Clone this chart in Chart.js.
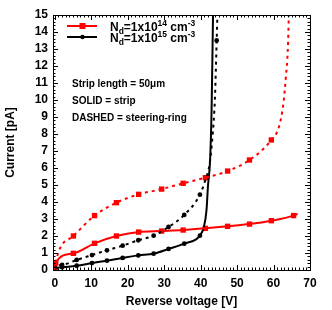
<!DOCTYPE html>
<html>
<head>
<meta charset="utf-8">
<script src="https://cdn.jsdelivr.net/npm/chart.js@4/dist/chart.umd.min.js"></script>
<style>
html,body{margin:0;padding:0;background:#fff;}
#wrap{position:relative;width:332px;height:310px;}
</style>
</head>
<body>
<div id="wrap"><canvas id="c" width="332" height="310"></canvas></div>
<script>
// ---- Data ----
// Nd = 1x10^14 cm^-3, strip (solid red) - marker points
const red14StripV = [0, 0.2, 5.1, 10.9, 16.9, 23.0, 29.3, 35.2, 41.3, 47.4, 53.4, 59.4, 65.5];
const red14StripI = [0, 0.42, 0.98, 1.57, 2.0, 2.23, 2.29, 2.35, 2.45, 2.57, 2.7, 2.9, 3.2];
// curve continuation beyond last marker
const red14StripTailV = [66.6];
const red14StripTailI = [3.3];

// Nd = 1x10^14 cm^-3, steering ring (dashed red)
const red14RingV = [0, 0.2, 5.1, 10.9, 16.9, 23.0, 29.3, 35.2, 41.3, 47.4, 53.4, 59.4];
const red14RingI = [0, 0.42, 2.0, 3.2, 3.96, 4.45, 4.76, 5.1, 5.43, 5.82, 6.47, 7.65];
const red14RingTailV = [61.5, 62.7, 63.4, 63.9, 64.2];
const red14RingTailI = [8.43, 9.8, 11.4, 12.9, 15.0];

// Nd = 1x10^15 cm^-3, strip (solid black)
const blk15StripV = [0, 0.1, 2.0, 6.0, 10.2, 14.3, 18.6, 22.9, 27.1, 31.2, 35.5, 39.8];
const blk15StripI = [0, 0.08, 0.16, 0.25, 0.41, 0.55, 0.71, 0.86, 0.96, 1.24, 1.55, 2.02];
const blk15StripTailV = [40.9, 41.6, 42.0, 42.6, 43.0, 43.4];
const blk15StripTailI = [2.55, 3.5, 4.9, 6.5, 9.4, 15.0];

// Nd = 1x10^15 cm^-3, steering ring (dashed black)
const blk15RingV = [0, 0.1, 2.0, 6.0, 10.2, 14.3, 18.6, 22.9, 27.1, 31.2, 35.5, 39.8, 44.4];
const blk15RingI = [0, 0.15, 0.3, 0.59, 0.88, 1.16, 1.43, 1.75, 2.02, 2.53, 3.24, 4.43, 13.5];
const blk15RingMidV = [41.3, 42.5, 43.3, 43.9];
const blk15RingMidI = [5.3, 6.3, 8.0, 10.0];
const blk15RingTailV = [44.6];
const blk15RingTailI = [15.0];

// Axis ranges / tick labels
const xMin = -0.5, xMax = 70, xMinor = 1;
const yMin = 0, yMax = 15, yMinor = 0.2;
const xTickValues = [0, 10, 20, 30, 40, 50, 60, 70];
const yTickValues = [0, 1, 2, 3, 4, 5, 6, 7, 8, 9, 10, 11, 12, 13, 14, 15];

const xTitle = 'Reverse voltage [V]';
const yTitle = 'Current [pA]';
const notes = ['Strip length = 50\u03BCm', 'SOLID = strip', 'DASHED = steering-ring'];

// ---- helpers ----
function pts(V, I) { return V.map((v, i) => ({x: v, y: I[i]})); }
function sorted(a) { return a.slice().sort((p, q) => p.x - q.x); }

const RED = '#ff0000', BLK = '#000000';
const FONT = '"Liberation Sans", Arial, Helvetica, sans-serif';

const lineCommon = {
  showLine: true, pointRadius: 0, pointHoverRadius: 0, borderWidth: 2,
  cubicInterpolationMode: 'monotone', fill: false
};

const datasets = [
  Object.assign({}, lineCommon, {
    label: 'red ring line', borderColor: RED, borderDash: [3, 4],
    data: sorted(pts(red14RingV, red14RingI).concat(pts(red14RingTailV, red14RingTailI)))
  }),
  Object.assign({}, lineCommon, {
    label: 'black ring line', borderColor: BLK, borderDash: [3, 4],
    data: sorted(pts(blk15RingV, blk15RingI).concat(pts(blk15RingMidV, blk15RingMidI), pts(blk15RingTailV, blk15RingTailI)))
  }),
  Object.assign({}, lineCommon, {
    label: 'red strip line', borderColor: RED,
    data: sorted(pts(red14StripV, red14StripI).concat(pts(red14StripTailV, red14StripTailI)))
  }),
  Object.assign({}, lineCommon, {
    label: 'black strip line', borderColor: BLK,
    data: sorted(pts(blk15StripV, blk15StripI).concat(pts(blk15StripTailV, blk15StripTailI)))
  }),
  { label: 'red ring pts', showLine: false, data: pts(red14RingV, red14RingI), pointStyle: 'rect', pointRadius: 3.8, backgroundColor: RED, borderColor: RED, borderWidth: 0 },
  { label: 'red strip pts', showLine: false, data: pts(red14StripV, red14StripI), pointStyle: 'rect', pointRadius: 3.8, backgroundColor: RED, borderColor: RED, borderWidth: 0 },
  { label: 'black ring pts', showLine: false, data: pts(blk15RingV, blk15RingI), pointStyle: 'circle', pointRadius: 2.4, backgroundColor: BLK, borderColor: BLK, borderWidth: 0 },
  { label: 'black strip pts', showLine: false, data: pts(blk15StripV, blk15StripI), pointStyle: 'circle', pointRadius: 2.4, backgroundColor: BLK, borderColor: BLK, borderWidth: 0 }
];

// Frame, inward ticks, legend, notes
const decor = {
  id: 'decor',
  afterDatasetsDraw(chart) {
    const ctx = chart.ctx, a = chart.chartArea;
    const xs = chart.scales.x, ys = chart.scales.y;
    ctx.save();
    ctx.strokeStyle = '#000'; ctx.lineWidth = 1;
    ctx.beginPath();
    for (let k = 0; k * xMinor <= xMax + 1e-9; k++) {
      const v = k * xMinor;
      const px = Math.round(xs.getPixelForValue(v)) + 0.5;
      const L = xTickValues.includes(v) ? 5 : 2.5;
      ctx.moveTo(px, a.bottom); ctx.lineTo(px, a.bottom - L);
      ctx.moveTo(px, a.top); ctx.lineTo(px, a.top + L);
    }
    for (let k = 0; yMin + k * yMinor <= yMax + 1e-9; k++) {
      const v = Math.round((yMin + k * yMinor) * 1000) / 1000;
      const py = Math.round(ys.getPixelForValue(v)) + 0.5;
      const L = yTickValues.includes(v) ? 5 : 2.5;
      ctx.moveTo(a.left, py); ctx.lineTo(a.left + L, py);
      ctx.moveTo(a.right, py); ctx.lineTo(a.right - L, py);
    }
    ctx.stroke();
    ctx.strokeRect(Math.round(a.left) + 0.5, Math.round(a.top) + 0.5,
                   Math.round(a.right - a.left), Math.round(a.bottom - a.top));

    // legend
    const legend = [
      {color: RED, style: 'rect', exp: '14', y: 26},
      {color: BLK, style: 'circle', exp: '15', y: 37}
    ];
    legend.forEach(it => {
      ctx.strokeStyle = it.color; ctx.fillStyle = it.color; ctx.lineWidth = 2;
      ctx.beginPath(); ctx.moveTo(67, it.y); ctx.lineTo(97, it.y); ctx.stroke();
      if (it.style === 'rect') ctx.fillRect(79.5, it.y - 3, 6, 6);
      else { ctx.beginPath(); ctx.arc(82.5, it.y, 2.2, 0, Math.PI * 2); ctx.fill(); }
      ctx.fillStyle = '#000'; ctx.textBaseline = 'alphabetic'; ctx.textAlign = 'left';
      let x = 110; const base = it.y + 4.5;
      const big = 'bold 12px ' + FONT, small = 'bold 8.5px ' + FONT;
      const seq = [
        ['N', big, 0], ['d', small, 3], ['=1x10', big, 0], [it.exp, small, -5],
        [' cm', big, 0], ['-3', small, -5]
      ];
      seq.forEach(s => {
        ctx.font = s[1];
        ctx.fillText(s[0], x, base + s[2]);
        x += ctx.measureText(s[0]).width;
      });
    });

    // notes
    ctx.fillStyle = '#000';
    ctx.font = 'bold 10px ' + FONT;
    const baselines = [86.7, 104, 121.3];
    notes.forEach((t, i) => ctx.fillText(t, 72, baselines[i]));
    ctx.restore();
  }
};

new Chart(document.getElementById('c'), {
  type: 'scatter',
  data: { datasets },
  plugins: [decor],
  options: {
    responsive: false,
    animation: false,
    devicePixelRatio: 1,
    layout: { padding: { left: 0, right: 22, top: 15, bottom: 0 } },
    plugins: { legend: { display: false }, tooltip: { enabled: false } },
    elements: { line: { tension: 0 } },
    scales: {
      x: {
        type: 'linear', min: xMin, max: xMax,
        afterFit(s) { s.height = 40; },
        afterBuildTicks(s) { s.ticks = xTickValues.map(v => ({ value: v })); },
        ticks: { autoSkip: false, color: '#000', font: { family: FONT, size: 12, weight: 'bold' }, padding: 6, maxRotation: 0 },
        grid: { display: false, drawTicks: false },
        border: { display: false },
        title: { display: true, text: xTitle, color: '#000', font: { family: FONT, size: 12, weight: 'bold' }, padding: { top: 0, bottom: 1 } }
      },
      y: {
        type: 'linear', min: yMin, max: yMax,
        afterFit(s) { s.width = 53; },
        afterBuildTicks(s) { s.ticks = yTickValues.map(v => ({ value: v })); },
        ticks: { autoSkip: false, color: '#000', font: { family: FONT, size: 12, weight: 'bold' }, padding: 5 },
        grid: { display: false, drawTicks: false },
        border: { display: false },
        title: { display: true, text: yTitle, color: '#000', font: { family: FONT, size: 12, weight: 'bold' }, padding: { top: 3, bottom: 0 } }
      }
    }
  }
});
</script>
</body>
</html>
